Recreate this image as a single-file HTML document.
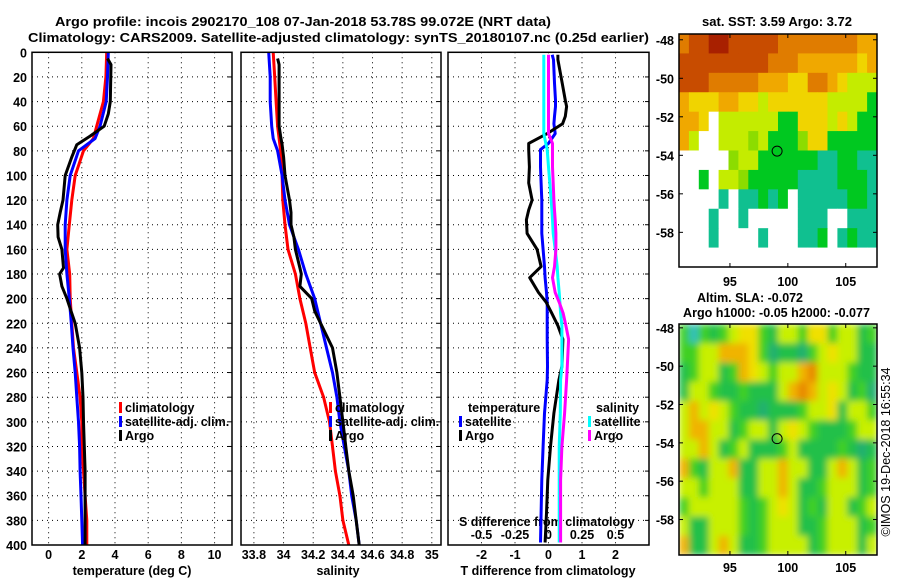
<!DOCTYPE html>
<html><head><meta charset="utf-8"><style>
html,body{margin:0;padding:0;background:#fff;}
svg{display:block;font-family:"Liberation Sans",sans-serif;}
.b{font-weight:bold;font-size:12.5px;fill:#000;}
</style></head><body>
<svg id="chart" width="900" height="580" viewBox="0 0 900 580" xmlns="http://www.w3.org/2000/svg">
<defs>
<filter id="blur" x="0" y="0" width="1" height="1"><feGaussianBlur stdDeviation="3.5" edgeMode="duplicate"/></filter>
<clipPath id="slaclip"><rect x="679" y="324" width="198" height="231"/></clipPath>
</defs>
<text class="b" x="55" y="26" font-size="13.5" textLength="496" lengthAdjust="spacingAndGlyphs">Argo profile: incois 2902170_108 07-Jan-2018 53.78S 99.072E (NRT data)</text>
<text class="b" x="28" y="42" font-size="13.5" textLength="621" lengthAdjust="spacingAndGlyphs">Climatology: CARS2009. Satellite-adjusted climatology: synTS_20180107.nc (0.25d earlier)</text>
<text class="b" x="702" y="26" textLength="150" lengthAdjust="spacingAndGlyphs">sat. SST: 3.59 Argo: 3.72</text>
<text class="b" x="697" y="302" textLength="106" lengthAdjust="spacingAndGlyphs">Altim. SLA: -0.072</text>
<text class="b" x="683" y="317" textLength="187" lengthAdjust="spacingAndGlyphs">Argo h1000: -0.05 h2000: -0.077</text>
<text transform="translate(890,452) rotate(-90)" text-anchor="middle" font-size="12.5">©IMOS 19-Dec-2018 16:55:34</text>
<g id="g"></g>
</svg>
<script>
// ---- data ----
const depthLevels = [0,20,40,60,70,80,100,120,140,160,180,200,220,240,260,280,300,320,340,360,380,400];
const tempClim = [3.5,3.45,3.3,2.9,2.7,2.1,1.6,1.4,1.25,1.1,1.27,1.3,1.4,1.5,1.7,1.9,2.0,2.0,2.1,2.2,2.3,2.3];
const tempSat = [3.6,3.55,3.47,3.1,2.8,1.8,1.3,1.1,1.0,1.0,1.1,1.25,1.37,1.47,1.6,1.7,1.8,1.87,1.9,1.95,2.0,2.05];
const salClim = [33.93,33.94,33.95,33.96,33.97,33.98,33.99,33.995,34.01,34.03,34.08,34.11,34.15,34.18,34.21,34.27,34.31,34.33,34.35,34.38,34.4,34.44];
const salSat = [33.9,33.91,33.91,33.92,33.93,33.96,33.99,34.01,34.04,34.1,34.15,34.21,34.25,34.29,34.33,34.36,34.38,34.41,34.44,34.46,34.49,34.51];
const argoDepth = [5,10,40,50,60,68,75,85,100,120,130,140,150,160,175,180,190,200,210,220,240,260,280,300,320,340,360,380,400];
const tempArgo = [3.55,3.76,3.72,3.6,3.35,2.5,1.7,1.4,1.0,0.87,0.7,0.55,0.57,0.8,0.9,0.66,0.8,1.1,1.35,1.6,1.87,2.0,2.07,2.1,2.15,2.2,2.2,2.2,2.2];
const salArgo = [33.96,33.97,33.97,33.97,33.97,33.98,33.99,34.0,34.01,34.04,34.05,34.05,34.07,34.08,34.11,34.12,34.11,34.19,34.21,34.25,34.33,34.36,34.38,34.4,34.42,34.44,34.47,34.49,34.51];
const diffDepth = [2,6,25,39,44,52,58,66,74,79,93,106,120,128,136,147,160,174,183,195,203,212,222,233,255,266,293,320,347,374,398];
const tDiffSat = [0.11,0.15,0.18,0.21,0.21,0.18,0.16,0.2,0.0,-0.24,-0.24,-0.22,-0.2,-0.2,-0.2,-0.2,-0.16,-0.12,-0.1,-0.06,-0.04,-0.04,-0.04,-0.04,-0.03,-0.04,-0.12,-0.16,-0.2,-0.22,-0.24];
const tDiffArgo = [0.28,0.28,0.41,0.5,0.54,0.5,0.42,-0.04,-0.59,-0.59,-0.57,-0.59,-0.49,-0.59,-0.66,-0.64,-0.34,-0.22,-0.56,-0.3,-0.07,0.1,0.28,0.43,0.4,0.31,0.16,0.06,-0.02,-0.06,-0.1];
const sDiffSat = [-0.035,-0.035,-0.035,-0.035,-0.035,-0.035,-0.035,-0.035,-0.02,-0.01,0.0,0.01,0.02,0.025,0.03,0.035,0.05,0.065,0.07,0.08,0.085,0.09,0.1,0.1,0.1,0.09,0.088,0.08,0.08,0.08,0.08];
const sDiffArgo = [0,0,0,0,0,0,0,0,0.03,0.03,0.03,0.035,0.04,0.045,0.05,0.055,0.055,0.045,0.03,0.05,0.08,0.11,0.13,0.15,0.14,0.135,0.12,0.1,0.09,0.09,0.09];
const depthTicks = [0,20,40,60,80,100,120,140,160,180,200,220,240,260,280,300,320,340,360,380,400];
const tempTicks = [0,2,4,6,8,10];
const salTicks = [33.8,34,34.2,34.4,34.6,34.8,35];
const salTickLabels = ["33.8","34","34.2","34.4","34.6","34.8","35"];
const tDiffTicks = [-2,-1,0,1,2];
const sDiffTicks = [-0.5,-0.25,0,0.25,0.5];
const sDiffTickLabels = ["-0.5","-0.25","0","0.25","0.5"];
const sstLatTicks = [-48,-50,-52,-54,-56,-58];
const slaLatTicks = [-48,-50,-52,-54,-56,-58];
const lonTicks = [95,100,105];
const argoLon = 99.072, argoLat = -53.78;
const sstGrid = [
"ORRDDRRRRROOOOOOOOoo",
"RRRRRRRRROOOooooooYo",
"RRROOOOOoooYYOOoYyyy",
"oYYYooYYyYYYYYYyyyyG",
"ooYWyyyyyyGGYYYyYyGG",
"oyWWyyygyGGGgYYGGGGG",
"WWWWWgyyGGGGGGTTGGTT",
"WWGWyygGGGGGTTTTGGGT",
"WWWWTWTTGTGWTTTTTGGT",
"WWWTWWTWWWWWTTTWWTTT",
"WWWTWWWWTWWWTTGWTGTT",
"WWWWWWWWWWWWWWWWWWWW"];
const slaGrid = [
"gCgGgyYYgGyygYYgyyGg",
"ggyyoooYgTGGTgyYyyGG",
"GgyyGgoYygyyoOyyygGG",
"GyygGGgGGGyoOoyYyGgT",
"yoyYygGGTGGGgyyYGyyg",
"yooyyGgyyGyYygGGGgyy",
"yyoyGgyGGGgyGGGGgGTG",
"ogGyyoGGyyoyyGGyoyGg",
"yygyyyGGyyoyGGgyyyGg",
"gyyyyygGgyYyGgGyyGgy",
"yGGyyygGgyyyGGgyyyGg",
"oGGyoyGGgyyyyGgyyyGy"];
const sstColors = {D:"#a82000",R:"#c84c00",O:"#e07c00",o:"#f0a800",Y:"#f0d400",y:"#c4ec00",g:"#8cdc00",G:"#00c820",T:"#10c090",W:"#ffffff"};
const slaColors = {G:"#20c048",g:"#40d020",y:"#c8f000",Y:"#f0e000",o:"#f0b400",O:"#e88800",T:"#20b070",C:"#30c0b8"};

// ---- drawing ----
const NS="http://www.w3.org/2000/svg";
const root=document.getElementById('g');
function mk(tag,attrs,parent){const e=document.createElementNS(NS,tag);for(const k in attrs)e.setAttribute(k,attrs[k]);(parent||root).appendChild(e);return e;}
const Y0=52.3,Y1=545;
const yD=d=>Y0+d*(Y1-Y0)/400;
const panels={
 p1:{x0:32,x1:232,min:-1,max:11.05},
 p2:{x0:241,x1:441,min:33.713,max:35.062},
 p3:{x0:448,x1:649,min:-3,max:3}};
const xS=(p,v)=>p.x0+(v-p.min)*(p.x1-p.x0)/(p.max-p.min);
const xSd=v=>xS(panels.p3,v*4);

function grid(p,xt,name){
  for(const d of depthTicks){ if(d===0||d===400)continue;
    const l=mk('line',{x1:p.x0,x2:p.x1,y1:yD(d),y2:yD(d),stroke:'#000','stroke-width':1,'stroke-dasharray':'1,4'});
    
    
    mk('line',{x1:p.x1-4,x2:p.x1,y1:yD(d),y2:yD(d),stroke:'#000'});
  }
  for(const v of xt){
    const l=mk('line',{x1:xS(p,v),x2:xS(p,v),y1:Y0,y2:Y1,stroke:'#000','stroke-width':1,'stroke-dasharray':'1,4'});
    
    
  }
}
function frame(p,name){
  const r=mk('rect',{x:p.x0,y:Y0,width:p.x1-p.x0,height:Y1-Y0,fill:'none',stroke:'#000','stroke-width':1.5});
  
  
}
function line(xs,ds,color,w,name,xf){
  let pts=[];
  for(let i=0;i<xs.length;i++) pts.push(xf(xs[i]).toFixed(1)+','+yD(ds[i]).toFixed(1));
  const pl=mk('polyline',{points:pts.join(' '),fill:'none',stroke:color,'stroke-width':w,'stroke-linejoin':'round'});
  
  
}
function txt(x,y,s,anchor,name,extra){
  const t=mk('text',Object.assign({x:x,y:y,'text-anchor':anchor||'start',class:'b'},extra||{}));
  t.textContent=s;
  
  
  return t;
}
function legend(x,y,color,label,name){
  const r=mk('rect',{x:x,y:y-10,width:3,height:11,fill:color});
  
  
  txt(x+6,y,label,'start',name);
}

const P1=panels.p1,P2=panels.p2,P3=panels.p3;
grid(P1,tempTicks,'temp-panel');
line(tempClim,depthLevels,'#f00',3,'temp-climatology-line',v=>xS(P1,v));
line(tempSat,depthLevels,'#00f',3,'temp-satellite-line',v=>xS(P1,v));
line(tempArgo,argoDepth,'#000',3,'temp-argo-line',v=>xS(P1,v));
frame(P1,'temp-panel');
for(const d of depthTicks) txt(27,yD(d)+5,String(d),'end','depth-tick-label');
for(const v of tempTicks) txt(xS(P1,v),559,String(v),'middle','temp-tick-label');
txt(132,575,'temperature (deg C)','middle','temp-axis-title');
legend(119,412,'#f00','climatology','temp-legend-climatology');
legend(119,426,'#00f','satellite-adj. clim.','temp-legend-satellite');
legend(119,440,'#000','Argo','temp-legend-argo');

grid(P2,salTicks,'sal-panel');
line(salClim,depthLevels,'#f00',3,'sal-climatology-line',v=>xS(P2,v));
line(salSat,depthLevels,'#00f',3,'sal-satellite-line',v=>xS(P2,v));
line(salArgo,argoDepth,'#000',3,'sal-argo-line',v=>xS(P2,v));
frame(P2,'sal-panel');
for(let i=0;i<salTicks.length;i++) txt(xS(P2,salTicks[i]),559,salTickLabels[i],'middle','sal-tick-label');
txt(338,575,'salinity','middle','sal-axis-title');
legend(329,412,'#f00','climatology','sal-legend-climatology');
legend(329,426,'#00f','satellite-adj. clim.','sal-legend-satellite');
legend(329,440,'#000','Argo','sal-legend-argo');

grid(P3,tDiffTicks,'diff-panel');
txt(459,526,'S difference from climatology','start','s-diff-axis-title');
for(let i=0;i<sDiffTicks.length;i++) txt(xSd(sDiffTicks[i]),539,sDiffTickLabels[i],'middle','s-diff-tick-label');
line(tDiffSat,diffDepth,'#00f',3,'t-diff-satellite-line',v=>xS(P3,v));
line(tDiffArgo,diffDepth,'#000',3,'t-diff-argo-line',v=>xS(P3,v));
line(sDiffSat,diffDepth,'#0ff',3,'s-diff-satellite-line',xSd);
line(sDiffArgo,diffDepth,'#f0f',3,'s-diff-argo-line',xSd);
frame(P3,'diff-panel');
for(const v of tDiffTicks) txt(xS(P3,v),559,String(v),'middle','t-diff-tick-label');
txt(548,575,'T difference from climatology','middle','t-diff-axis-title');
txt(468,412,'temperature','start','diff-legend-temperature-header');
legend(459,426,'#00f','satellite','diff-legend-t-satellite');
legend(459,440,'#000','Argo','diff-legend-t-argo');
txt(596,412,'salinity','start','diff-legend-salinity-header');
legend(588,426,'#0ff','satellite','diff-legend-s-satellite');
legend(588,440,'#f0f','Argo','diff-legend-s-argo');

const LON0=90.6,LON1=107.7,MX0=679,MX1=877;
const lonX=l=>MX0+(l-LON0)*(MX1-MX0)/(LON1-LON0);
function map(gridRows,colors,y0,y1,lat0,lat1,latTicks,name,lonLabelY,smooth){
  const rows=gridRows.length,cols=gridRows[0].length;
  const cw=(MX1-MX0)/cols,ch=(y1-y0)/rows;
  const latY=l=>y0+(lat0-l)*(y1-y0)/(lat0-lat1);
  let holder=root;
  if(smooth){
    const clipG=mk('g',{'clip-path':'url(#slaclip)'});
    holder=mk('g',{filter:'url(#blur)'},clipG);
  }
  for(let r=0;r<rows;r++)for(let c=0;c<cols;c++){
    const col=colors[gridRows[r][c]];
    const cell=mk('rect',{x:(MX0+c*cw).toFixed(2),y:(y0+r*ch).toFixed(2),width:(cw+0.4).toFixed(2),height:(ch+0.4).toFixed(2),fill:col},holder);
    
    
  }
  const f=mk('rect',{x:MX0,y:y0,width:MX1-MX0,height:y1-y0,fill:'none',stroke:'#000','stroke-width':1.5});
  
  
  for(const l of latTicks){ txt(674,latY(l)+5,String(l),'end',name+'-lat-label');
    mk('line',{x1:MX0,x2:MX0+4,y1:latY(l),y2:latY(l),stroke:'#000'});
    mk('line',{x1:MX1-4,x2:MX1,y1:latY(l),y2:latY(l),stroke:'#000'});}
  for(const l of lonTicks){ txt(lonX(l),lonLabelY,String(l),'middle',name+'-lon-label');
    mk('line',{x1:lonX(l),x2:lonX(l),y1:y1-4,y2:y1,stroke:'#000'});
    mk('line',{x1:lonX(l),x2:lonX(l),y1:y0,y2:y0+4,stroke:'#000'});}
  const m=mk('circle',{cx:lonX(argoLon),cy:latY(argoLat),r:5,fill:'none',stroke:'#000','stroke-width':1});
  
  
}
map(sstGrid,sstColors,34,267,-47.7,-59.8,sstLatTicks,'sst-map',286,false);
map(slaGrid,slaColors,324,555,-47.8,-59.85,slaLatTicks,'sla-map',572,true);
</script>
</body></html>
